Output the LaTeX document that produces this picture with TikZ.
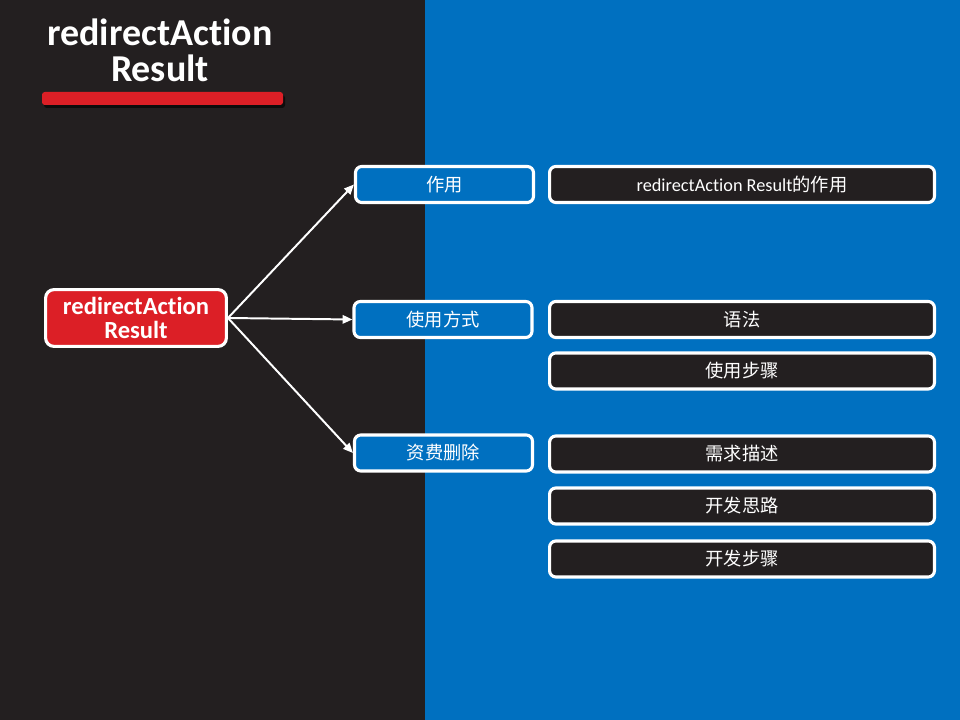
\documentclass[tikz,border=0pt]{standalone}
\usepackage{fontspec}
\setmainfont{Carlito}[Ligatures=NoCommon]
\newfontfamily\cjk{Noto Sans CJK SC}
\usetikzlibrary{arrows.meta}
\definecolor{darkbg}{HTML}{231F20}
\definecolor{bluebg}{HTML}{0070C0}
\definecolor{barred}{HTML}{DC1F26}
\tikzset{
  topicbox/.style={draw=white, line width=2.2pt, rounded corners=6pt, fill=barred,
    text=white, font=\fontsize{17.5}{17.5}\selectfont\bfseries, align=center,
    minimum width=4.52cm, minimum height=1.42cm, inner sep=0pt},
  partbox/.style={draw=white, line width=2.2pt, rounded corners=4.5pt, fill=bluebg,
    text=white, font=\fontsize{13}{15}\selectfont\cjk,
    minimum width=4.45cm, minimum height=0.9cm, inner sep=0pt},
  itembox/.style={draw=white, line width=2.2pt, rounded corners=4.5pt, fill=darkbg,
    text=white, font=\fontsize{13}{15}\selectfont\cjk,
    minimum width=9.62cm, minimum height=0.9cm, inner sep=0pt},
  link/.style={white, line width=1.4pt, -{Triangle[length=7pt,width=6pt]}}
}
\begin{document}
\begin{tikzpicture}[x=0.025cm, y=-0.025cm]
        % background halves
        \fill[darkbg] (0,0) rectangle (425,720);
        \fill[bluebg] (425,0) rectangle (960,720);
        \useasboundingbox (0,0) rectangle (960,720);
        % title
        \node[text=white, font=\fontsize{27}{25.5}\selectfont\bfseries, align=center] (title) at (160,50) {redirectAction\\Result};
        \fill[black, opacity=0.6, rounded corners=2pt] (44,95) rectangle (285,108);
        \fill[barred, rounded corners=2pt] (42,92) rectangle (283,105);
        % main topic
        \node[topicbox] (topic) at (136,318) {redirectAction\\Result};
        % parts
        \node[partbox] (use) at (444.5,184.5) {作用};
        \node[partbox] (way) at (443,319.5) {使用方式};
        \node[partbox] (del) at (443.5,453) {资费删除};
        % items
        \node[itembox] (useA) at (742,184.5) {\rmfamily redirectAction Result{\cjk 的作用}};
        \node[itembox] (wayA) at (742,319.5) {语法};
        \node[itembox] (wayB) at (742,371) {使用步骤};
        \node[itembox] (delA) at (742,454) {需求描述};
        \node[itembox] (delB) at (742,506) {开发思路};
        \node[itembox] (delC) at (742,559) {开发步骤};
        % links
        \draw[link] (topic.east) -- (use.west);
        \draw[link] (topic.east) -- (way.west);
        \draw[link] (topic.east) -- (del.west);
    \end{tikzpicture}
\end{document}
